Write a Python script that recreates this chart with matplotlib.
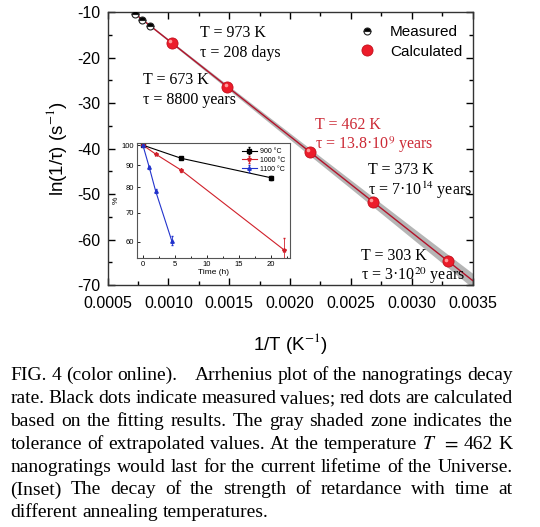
import matplotlib
matplotlib.use("Agg")
import matplotlib.pyplot as plt
import matplotlib.transforms as mtransforms

# ---- data ----
calc_T = [973, 673, 462, 373, 303]                        # K
calc_invT = [0.001028, 0.001486, 0.002165, 0.002681, 0.003300]
calc_ln = [-16.7, -26.4, -40.8, -51.7, -64.8]

meas_invT = [0.000728, 0.000785, 0.000852]
meas_ln = [-10.4, -11.7, -13.0]

fit_x = [0.00072, 0.0035]
fit_y = [-10.2, -69.0]

band_x = [0.00072, 0.0010, 0.0015, 0.0020, 0.0025, 0.0030, 0.0035]
band_hi = [-10.0, -15.85, -26.25, -36.6, -46.9, -57.2, -67.4]
band_lo = [-10.35, -16.35, -27.15, -38.0, -48.8, -59.7, -70.6]

labels_T = ["T = 973 K", "T = 673 K", "T = 462 K", "T = 373 K", "T = 303 K"]
labels_tau = ["τ = 208 days", "τ = 8800 years", r"τ = 13.8·10$^{9}$ years",
              r"τ = 7·10$^{14}$ years", r"τ = 3·10$^{20}$ years"]
label_x = [0.001264, 0.000793, 0.002207, 0.002645, 0.002587]
label_y = [-14.6, -25.0, -34.8, -44.8, -63.7]
label_col = ["black", "black", "#cc2a36", "black", "black"]

# inset: retardance vs time
t900 = [0, 6, 20]
p900 = [100, 93.3, 84.2]
e900 = [0, 0.5, 0.9]
t1000 = [0, 2, 6, 22]
p1000 = [100, 95.4, 87.6, 57.6]
e1000 = [0, 0.5, 0.6, 3.5]
t1100 = [0, 1, 2, 4.5]
p1100 = [100, 88.9, 78.4, 60.4]
e1100 = [0, 0.8, 0.8, 1.5]

caption = [
    "FIG. 4 (color online). | Arrhenius plot of the nanogratings decay",
    "rate. Black dots indicate measured values; red dots are calculated",
    "based on the fitting results. The gray shaded zone indicates the",
    "tolerance of extrapolated values. At the temperature $T$ $=$ 462 K",
    "nanogratings would last for the current lifetime of the Universe.",
    "(Inset) The decay of the strength of retardance with time at",
    "different annealing temperatures.",
]

plt.rcParams["font.family"] = ["Liberation Sans", "DejaVu Sans"]
plt.rcParams["mathtext.fontset"] = "stix"
plt.rcParams["axes.unicode_minus"] = False

W, H = 540, 527
fig = plt.figure(figsize=(W / 100, H / 100), dpi=100)

ax = fig.add_axes([107.5 / W, 1 - 285 / H, 365 / W, 272.7 / H])
ax.fill_between(band_x, band_lo, band_hi, color="#b5b5b5", lw=0, zorder=1)
ax.plot(fit_x, fit_y, color="#b3122a", lw=1.0, zorder=2)
ax.plot(meas_invT, meas_ln, "o", ms=5, fillstyle="top", color="black",
        markerfacecoloralt="white", mec="#222222", mew=0.8, zorder=4,
        label="Measured")
ax.plot(calc_invT, calc_ln, "o", ms=8, color="#ec1c2a", mec="#c20f1c",
        mew=0.6, zorder=4, label="Calculated")
# little highlight so the red dots look like the shaded spheres
shine = mtransforms.offset_copy(ax.transData, fig=fig, x=-1.3, y=1.3, units="points")
ax.plot(calc_invT, calc_ln, "o", ms=2.6, color="#ff9a9a", mew=0, zorder=5,
        transform=shine)

for lx, ly, lt, lu, lc in zip(label_x, label_y, labels_T, labels_tau, label_col):
    ax.text(lx, ly, lt, color=lc, fontsize=11.5, family="Liberation Serif",
            va="center", ha="left")
    ax.text(lx, ly - 4.3, lu, color=lc, fontsize=11.5, family="Liberation Serif",
            va="center", ha="left")

ax.set_xlim(0.0005, 0.0035)
ax.set_ylim(-70, -10)
ax.set_xticks([0.0005, 0.0010, 0.0015, 0.0020, 0.0025, 0.0030, 0.0035])
ax.set_xticklabels(["0.0005", "0.0010", "0.0015", "0.0020", "0.0025", "0.0030", "0.0035"])
ax.set_xticks([0.00075, 0.00125, 0.00175, 0.00225, 0.00275, 0.00325], minor=True)
ax.set_yticks(range(-70, -9, 10))
ax.set_yticks(range(-65, -10, 10), minor=True)
ax.tick_params(which="both", direction="in", top=True, right=True,
               labelsize=11.5)
ax.tick_params(axis="x", pad=8)
ax.tick_params(axis="y", pad=5)
ax.tick_params(which="major", length=5, width=1)
ax.tick_params(which="minor", length=3, width=1)
for s in ax.spines.values():
    s.set_linewidth(1.0)
    s.set_color("#333333")
ax.set_xlabel("1/T (K$^{-1}$)", fontsize=13.5, labelpad=14)
ax.set_ylabel(r"ln(1/τ) (s$^{-1}$)", fontsize=13.5, labelpad=6)
ax.legend(loc="upper left", bbox_to_anchor=(0.674, 0.976), frameon=False,
          fontsize=11, handlelength=1.0, handletextpad=1.0,
          labelspacing=0.38, borderaxespad=0.0)

# ---- inset ----
ins = fig.add_axes([136.5 / W, 1 - 258.3 / H, 153.5 / W, 115 / H])
ins.errorbar(t900, p900, yerr=e900, color="black", marker="s", ms=2.5, lw=0.8,
             elinewidth=0.6, capsize=1, label="900 °C")
ins.errorbar(t1000, p1000, yerr=e1000, color="#d0202a", marker="*", ms=3, lw=0.8,
             elinewidth=0.6, capsize=1, label="1000 °C")
ins.errorbar(t1100, p1100, yerr=e1100, color="#2233cc", marker="^", ms=2.5, lw=0.8,
             elinewidth=0.6, capsize=1, label="1100 °C")
ins.set_yscale("log")
ins.set_xlim(-1, 23)
ins.set_ylim(55, 101)
ins.set_yticks([60, 70, 80, 90, 100])
ins.set_yticklabels(["60", "70", "80", "90", "100"])
ins.yaxis.set_minor_locator(matplotlib.ticker.NullLocator())
ins.set_xticks([0, 5, 10, 15, 20])
ins.set_xticks([2.5, 7.5, 12.5, 17.5, 22.5], minor=True)
ins.tick_params(which="both", direction="in", labelsize=5.5, pad=2)
ins.tick_params(which="major", length=2.5, width=0.6)
ins.tick_params(which="minor", length=1.5, width=0.6)
for s in ins.spines.values():
    s.set_linewidth(0.8)
    s.set_color("#555555")
ins.set_xlabel("Time (h)", fontsize=6, labelpad=1)
ins.set_ylabel("%", fontsize=6, labelpad=1)
ins.legend(loc="upper right", frameon=False, fontsize=5, handlelength=2.2,
           handletextpad=0.4, labelspacing=0.25, borderaxespad=0.3)

# ---- justified caption ----
renderer = fig.canvas.get_renderer()
cap_left, cap_right = 10.5, 512.5
baselines = [380, 403, 426, 449, 471.5, 494.5, 517]
cap_size = 14
cap_font = dict(family="Liberation Serif", fontsize=cap_size)

for i, (line, base) in enumerate(zip(caption, baselines)):
    words = line.split(" ")
    gaps = []
    tokens = []
    for w in words:
        if w == "|":
            gaps[-1] = 4.0
            continue
        tokens.append(w)
        gaps.append(1.0)
    gaps = gaps[:-1]
    texts = [fig.text(0, 1 - base / H, w, va="baseline", ha="left", **cap_font)
             for w in tokens]
    widths = [t.get_window_extent(renderer).width for t in texts]
    last = i == len(caption) - 1
    if last:
        unit = 0.25 * cap_size * 100 / 72
    else:
        unit = (cap_right - cap_left - sum(widths)) / sum(gaps)
    x = cap_left
    for k, t in enumerate(texts):
        t.set_x(x / W)
        x += widths[k]
        if k < len(gaps):
            x += unit * gaps[k]

fig.savefig("out.png", dpi=100)
